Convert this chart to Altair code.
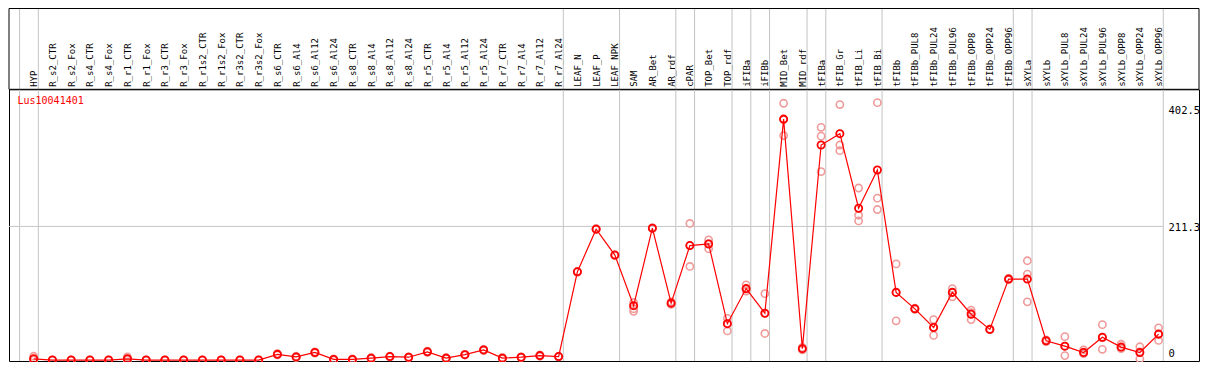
import altair as alt
import pandas as pd

gene = "Lus10041401"

samples = [
    "HYP",
    "R_s2_CTR", "R_s2_Fox", "R_s4_CTR", "R_s4_Fox", "R_r1_CTR", "R_r1_Fox",
    "R_r3_CTR", "R_r3_Fox", "R_r1s2_CTR", "R_r1s2_Fox", "R_r3s2_CTR", "R_r3s2_Fox",
    "R_s6_CTR", "R_s6_Al4", "R_s6_Al12", "R_s6_Al24", "R_s8_CTR", "R_s8_Al4",
    "R_s8_Al12", "R_s8_Al24", "R_r5_CTR", "R_r5_Al4", "R_r5_Al12", "R_r5_Al24",
    "R_r7_CTR", "R_r7_Al4", "R_r7_Al12", "R_r7_Al24",
    "LEAF_N", "LEAF_P", "LEAF_NPK",
    "SAM", "AR_Bet", "AR_rdf",
    "cPAR",
    "TOP_Bet", "TOP_rdf",
    "iFIBa",
    "iFIBb",
    "MID_Bet", "MID_rdf",
    "tFIBa",
    "tFIB_Gr", "tFIB_Li", "tFIB_Bi",
    "tFIBb", "tFIBb_PUL8", "tFIBb_PUL24", "tFIBb_PUL96", "tFIBb_OPP8", "tFIBb_OPP24", "tFIBb_OPP96",
    "sXYLa",
    "sXYLb", "sXYLb_PUL8", "sXYLb_PUL24", "sXYLb_PUL96", "sXYLb_OPP8", "sXYLb_OPP24", "sXYLb_OPP96",
]

# number of samples in each separated group (left to right)
group_sizes = [1, 28, 3, 3, 1, 2, 1, 1, 2, 1, 3, 7, 1, 7]

means = [
    2,
    0, 0, 0, 0, 2, 0, 0, 0, 0, 0, 0, 0,
    9, 5, 12, 1, 1, 3, 5.5, 4.5, 13, 3, 8.5, 16, 3, 4.5, 7, 5.5,
    139.5, 207, 166,
    86, 208.5, 90,
    181,
    183.5, 57.5,
    113,
    74,
    381, 18,
    340,
    358, 240, 300.5,
    107, 81, 51.5, 107, 72.5, 48.5, 128,
    128,
    30.5, 22, 12, 36, 20.5, 12, 41,
]

rep_a = [
    0,
    0, 0, 0, 0, 0, 0, 0, 0, 0, 0, 0, 0,
    8, 4, 11, 0, 0, 2, 5, 4, 12, 2, 8, 15, 2, 4, 6, 5,
    140, 207, 166,
    91, 209, 92,
    216,
    190, 66,
    119,
    105,
    406, 20,
    368,
    404, 272, 407,
    152, 82, 64, 113, 79, 49, 129,
    157,
    32, 37, 16, 56, 25, 21, 51,
]
rep_b = [
    1,
    0, 0, 0, 0, 1, 0, 0, 0, 0, 0, 0, 0,
    9, 5, 12, 1, 1, 3, 5.5, 4.5, 13, 3, 8.5, 16, 3, 4.5, 7, 5.5,
    139, 207, 166,
    81, 208, 89,
    181,
    184, 58,
    112,
    74,
    380, 18,
    354,
    340, 229, 256,
    107, 81, 52, 107, 75, 48, 128,
    136,
    30, 22, 12, 35, 20, 13, 41,
]
rep_c = [
    6,
    0, 0, 0, 0, 5, 0, 0, 0, 0, 0, 0, 0,
    10, 6, 13, 2, 2, 4, 6, 5, 14, 4, 9, 17, 4, 5, 8, 6,
    140, 208, 165,
    77, 209, 88,
    148,
    176, 46,
    109,
    42,
    355, 16,
    298,
    331, 220, 238,
    62, 80, 39, 100, 64, 48, 127,
    92,
    29, 7, 10, 17, 18, 2, 31,
]

ylabel_values = [402.5, 211.3, 0]
ylabel_texts = ["402.5", "211.3", "0"]
hgrid_values = [211.3]

# ---------------- layout (pixels) ----------------
W, H, TOP = 1190, 271.7, 81.3
x_domain = [-1.3151, 62.155]
y_domain = [-1.5, 428.1]
GRID_OFF = 0.25

xs = alt.Scale(domain=x_domain, nice=False, zero=False)
ys = alt.Scale(domain=y_domain, nice=False, zero=False)

label_expr = "[" + ",".join("'" + s + "'" for s in samples) + "][datum.value]"
xaxis = alt.Axis(
    orient="top", values=list(range(len(samples))), labelExpr=label_expr,
    labelAngle=270, labelAlign="left", labelBaseline="middle", labelPadding=3,
    labelFont="DejaVu Sans Mono", labelFontSize=9, labelColor="black",
    labelOverlap=False, labelFlush=False, labelBound=False,
    ticks=False, domain=False, grid=False, title=None,
)


def X(field):
    return alt.X(field, scale=xs, axis=xaxis)


def Y(field):
    return alt.Y(field, scale=ys, axis=None)


df_mean = pd.DataFrame({"idx": list(range(len(samples))), "sample": samples, "value": means})
rows = []
for i, s in enumerate(samples):
    for r in (rep_a[i], rep_b[i], rep_c[i]):
        rows.append({"idx": i, "sample": s, "value": r})
df_rep = pd.DataFrame(rows)

ends = [-1]
acc = -1
for g in group_sizes:
    acc += g
    ends.append(acc)
df_vgrid = pd.DataFrame({"pos": [e + GRID_OFF for e in ends]})
df_hgrid = pd.DataFrame({"v": hgrid_values, "x0": [x_domain[0]] * len(hgrid_values),
                         "x1": [ends[-1] + GRID_OFF] * len(hgrid_values)})

vgrid = alt.Chart(df_vgrid).mark_rule(color="#c4c4c4", strokeWidth=1).encode(
    x=X("pos:Q"), y=alt.value(-TOP), y2=alt.value(H)
)
hgrid = alt.Chart(df_hgrid).mark_rule(color="#c4c4c4", strokeWidth=1).encode(
    x=X("x0:Q"), x2="x1:Q", y=Y("v:Q")
)
header_box = alt.Chart(pd.DataFrame({"k": [0]})).mark_rect(
    fillOpacity=0, stroke="black", strokeWidth=1
).encode(x=alt.value(0), x2=alt.value(W), y=alt.value(-TOP + 0.5), y2=alt.value(0))

reps = alt.Chart(df_rep).mark_point(
    shape="circle", size=52, filled=False, color="#f09a9a", strokeWidth=1.6, opacity=1
).encode(x=X("idx:Q"), y=Y("value:Q"))

line = alt.Chart(df_mean).mark_line(color="#ff0000", strokeWidth=1.2).encode(
    x=X("idx:Q"), y=Y("value:Q")
)
pts = alt.Chart(df_mean).mark_point(
    shape="circle", size=52, filled=False, color="#ff0000", strokeWidth=1.8, opacity=1
).encode(x=X("idx:Q"), y=Y("value:Q"))

title = alt.Chart(pd.DataFrame({"t": [gene]})).mark_text(
    align="left", baseline="middle", color="#ff0000", font="DejaVu Sans Mono", fontSize=10
).encode(x=alt.value(8.5), y=alt.value(11.5), text="t:N")

ylabel_dy = [6, 2, -6]
ylabs = []
for v, t, d in zip(ylabel_values, ylabel_texts, ylabel_dy):
    ylabs.append(
        alt.Chart(pd.DataFrame({"v": [v], "t": [t]})).mark_text(
            align="left", baseline="middle", color="black", font="DejaVu Sans Mono",
            fontSize=10.5, dy=d
        ).encode(x=alt.value(1159.5), y=Y("v:Q"), text="t:N")
    )

chart = alt.layer(vgrid, hgrid, header_box, reps, line, pts, title, *ylabs).properties(
    width=W, height=H,
    autosize=alt.AutoSizeParams(type="none"),
    padding={"left": 1, "top": TOP, "right": 2, "bottom": 1},
    background="white",
).configure_view(stroke="black", strokeWidth=1)

chart.save("out.html", embed_options={"renderer": "svg", "actions": False})
